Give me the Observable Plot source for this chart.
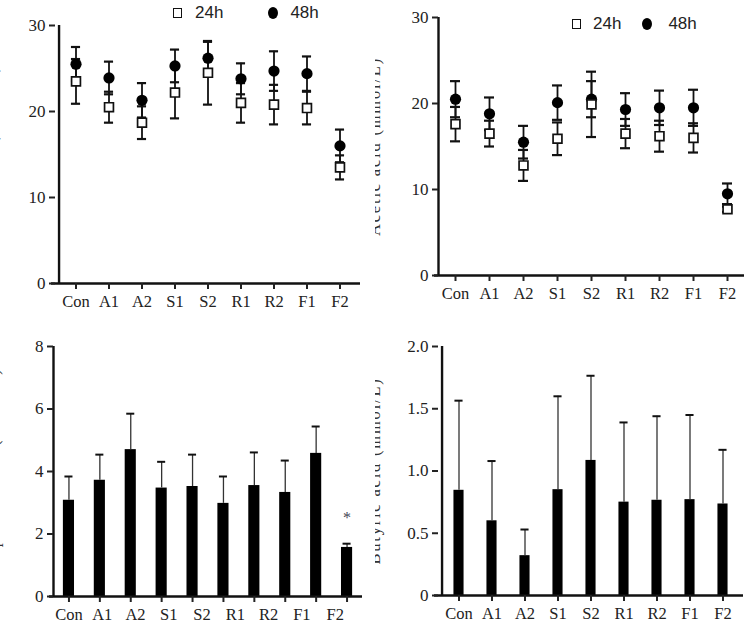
<!DOCTYPE html>
<html>
<head>
<meta charset="utf-8">
<script src="https://cdn.jsdelivr.net/npm/d3@7"></script>
<script src="https://cdn.jsdelivr.net/npm/@observablehq/plot@0.6"></script>
<style>
  html, body { margin: 0; padding: 0; background: #fff; }
  #wrap { position: relative; width: 750px; height: 639px; overflow: hidden; }
  .panel { position: absolute; }
  .panel svg { display: block; font-family: "Liberation Serif", "DejaVu Serif", serif; }
  .panel svg [aria-label="y-axis label"] text { font-size: 16.5px; letter-spacing: 1.8px; fill: #333; }
  .legend { position: absolute; font-family: "Liberation Sans", Arial, sans-serif; font-size: 17px; color: #222; display: flex; align-items: center; }
  .sq { display: inline-block; width: 7px; height: 8px; border: 1.6px solid #111; background: #fff; }
  .ci { display: inline-block; width: 10px; height: 12px; border-radius: 50%; background: #000; }
</style>
</head>
<body>
<div id="wrap">
  <div class="panel" id="p1" style="left:0;top:0"></div>
  <div class="panel" id="p2" style="left:375px;top:0"></div>
  <div class="panel" id="p3" style="left:0;top:320px"></div>
  <div class="panel" id="p4" style="left:375px;top:320px"></div>
  <div class="legend" style="left:173px;top:3px"><span class="sq"></span><span style="margin-left:13px">24h</span><span class="ci" style="margin-left:45px"></span><span style="margin-left:12px">48h</span></div>
  <div class="legend" style="left:572px;top:14px"><span class="sq"></span><span style="margin-left:12px">24h</span><span class="ci" style="margin-left:21px"></span><span style="margin-left:16px">48h</span></div>
</div>
<script>
// ---------- data ----------
const groups = ["Con", "A1", "A2", "S1", "S2", "R1", "R2", "F1", "F2"];

// Total SCFA (mmol/L)
const totalMean24 = [23.5, 20.5, 18.7, 22.2, 24.5, 21.0, 20.8, 20.4, 13.5];
const totalSD24   = [2.6, 1.8, 1.9, 3.0, 3.7, 2.3, 2.3, 1.9, 1.4];
const totalMean48 = [25.5, 23.9, 21.3, 25.3, 26.2, 23.8, 24.7, 24.4, 16.0];
const totalSD48   = [2.0, 1.9, 2.0, 1.9, 1.9, 1.8, 2.3, 2.0, 1.9];

// Acetic acid (mmol/L)
const aceticMean24 = [17.6, 16.5, 12.8, 15.9, 19.9, 16.5, 16.2, 16.0, 7.7];
const aceticSD24   = [2.0, 1.5, 1.8, 1.9, 3.8, 1.7, 1.8, 1.7, 0.3];
const aceticMean48 = [20.5, 18.8, 15.5, 20.1, 20.5, 19.3, 19.5, 19.5, 9.5];
const aceticSD48   = [2.1, 1.9, 1.9, 2.0, 2.1, 1.9, 2.0, 2.1, 1.2];

// Propanoic acid (mmol/L) — the source figure shows 10 bars under 9 labels
const propMean = [3.08, 3.72, 4.70, 3.47, 3.52, 2.98, 3.55, 3.33, 4.58, 1.57];
const propSD   = [0.76, 0.82, 1.15, 0.84, 1.02, 0.86, 1.06, 1.02, 0.86, 0.12];
const propSig  = ["", "", "", "", "", "", "", "", "", "*"];

// Butyric acid (mmol/L)
const butMean = [0.845, 0.60, 0.32, 0.85, 1.085, 0.75, 0.765, 0.77, 0.735];
const butSD   = [0.72, 0.48, 0.21, 0.75, 0.68, 0.64, 0.675, 0.68, 0.435];

// ---------- helpers ----------
const INK = "#111";
const AXW = 2.4;
const SHIFT = 10;   // the x range starts SHIFT px inside the frame; the y axis is moved along with it

function dotPanel({mean24, sd24, mean48, sd48, yLabel, axisX0, right, top, bottom, labelOffset}) {
  const rows = [];
  groups.forEach((g, i) => {
    rows.push({g, series: "24h", m: mean24[i], lo: mean24[i] - sd24[i], hi: mean24[i] + sd24[i]});
    rows.push({g, series: "48h", m: mean48[i], lo: mean48[i] - sd48[i], hi: mean48[i] + sd48[i]});
  });
  const r24 = rows.filter(d => d.series === "24h");
  const r48 = rows.filter(d => d.series === "48h");
  const x1 = 375 - right;
  const bw = (x1 - axisX0) / groups.length;
  const capInset = (bw - 10) / 2;
  return Plot.plot({
    width: 375, height: 320,
    marginLeft: axisX0 - SHIFT, marginRight: right, marginTop: top, marginBottom: bottom,
    style: {fontSize: "16px", color: "#222", background: "transparent"},
    x: {type: "band", domain: groups, padding: 0, range: [axisX0, x1], label: null},
    y: {domain: [0, 30], label: null},
    marks: [
      Plot.ruleY([0], {stroke: INK, strokeWidth: AXW, insetLeft: SHIFT - 4}),
      Plot.ruleX([groups[0]], {dx: -bw / 2, stroke: INK, strokeWidth: AXW}),
      Plot.axisY({ticks: [0, 10, 20, 30], dx: SHIFT, tickSize: 6, tickPadding: 4, strokeWidth: 2, fontSize: 17,
        label: yLabel, labelArrow: "none", labelAnchor: "center", labelOffset: labelOffset + SHIFT}),
      Plot.axisX({tickSize: 6, tickPadding: 6, strokeWidth: 2, fontSize: 16.5}),
      Plot.ruleX(rows, {x: "g", y1: "lo", y2: "hi", stroke: INK, strokeWidth: 1.8}),
      Plot.tickY(rows, {x: "g", y: "lo", stroke: INK, strokeWidth: 2.2, insetLeft: capInset, insetRight: capInset}),
      Plot.tickY(rows, {x: "g", y: "hi", stroke: INK, strokeWidth: 2.2, insetLeft: capInset, insetRight: capInset}),
      Plot.dot(r48, {x: "g", y: "m", r: 5.6, fill: "#000", stroke: "none"}),
      Plot.dot(r24, {x: "g", y: "m", symbol: "square", r: 5, fill: "#fff", stroke: INK, strokeWidth: 1.7})
    ]
  });
}

// Panel 1: Total SCFA
document.getElementById("p1").append(dotPanel({
  mean24: totalMean24, sd24: totalSD24, mean48: totalMean48, sd48: totalSD48,
  yLabel: "Total SCFA (mmol/L)", axisX0: 55, right: 15, top: 25, bottom: 37, labelOffset: 50
}));

// Panel 2: Acetic acid
document.getElementById("p2").append(dotPanel({
  mean24: aceticMean24, sd24: aceticSD24, mean48: aceticMean48, sd48: aceticSD48,
  yLabel: "Acetic acid (mmol/L)", axisX0: 63, right: 6, top: 17, bottom: 45, labelOffset: 50
}));

// Panel 3: Propanoic acid (10 bars, 9 labels spread across the axis)
{
  const bars = propMean.map((m, i) => ({i, m, hi: m + propSD[i], sig: propSig[i]}));
  const n = bars.length;
  const labelStep = 1.077;
  const labelPos = groups.map((g, j) => j * labelStep);
  const labelAt = new Map(labelPos.map((p, j) => [p, groups[j]]));
  const half = 0.18, cap = 0.13;
  const axisX0 = 53, right = 13;
  document.getElementById("p3").append(Plot.plot({
    width: 375, height: 319,
    marginLeft: axisX0 - SHIFT, marginRight: right, marginTop: 26, marginBottom: 43,
    style: {fontSize: "16px", color: "#222", background: "transparent"},
    x: {type: "linear", domain: [-0.5, n - 0.5], range: [axisX0, 375 - right], label: null},
    y: {domain: [0, 8], label: null},
    marks: [
      Plot.rectY(bars, {x1: d => d.i - half, x2: d => d.i + half, y1: 0, y2: "m", fill: "#000"}),
      Plot.ruleX(bars, {x: "i", y1: "m", y2: "hi", stroke: "#333", strokeWidth: 1.3}),
      Plot.ruleY(bars, {y: "hi", x1: d => d.i - cap, x2: d => d.i + cap, stroke: INK, strokeWidth: 2}),
      Plot.text(bars, {x: "i", y: "hi", text: "sig", dy: -26, fontSize: 16, fill: "#445"}),
      Plot.ruleY([0], {stroke: INK, strokeWidth: AXW, insetLeft: SHIFT - 4}),
      Plot.ruleX([-0.5], {stroke: INK, strokeWidth: AXW}),
      Plot.axisY({ticks: [0, 2, 4, 6, 8], dx: SHIFT, tickSize: 6, tickPadding: 4, strokeWidth: 2, fontSize: 17,
        label: "Propanoic acid (mmol/L)", labelArrow: "none", labelAnchor: "center", labelOffset: 46 + SHIFT}),
      Plot.axisX({ticks: d3.range(n), tickSize: 6, tickFormat: () => "", strokeWidth: 2}),
      Plot.axisX({ticks: labelPos, tickSize: 0, tickPadding: 12, tickFormat: d => labelAt.get(d), fontSize: 16.5})
    ]
  }));
}

// Panel 4: Butyric acid
{
  const bars = groups.map((g, i) => ({g, m: butMean[i], hi: butMean[i] + butSD[i]}));
  const axisX0 = 63, right = 7;
  const bw = (375 - right - axisX0) / groups.length;
  const barInset = (bw - 11) / 2, capInset = (bw - 9) / 2;
  document.getElementById("p4").append(Plot.plot({
    width: 375, height: 319,
    marginLeft: axisX0 - SHIFT, marginRight: right, marginTop: 26, marginBottom: 44,
    style: {fontSize: "16px", color: "#222", background: "transparent"},
    x: {type: "band", domain: groups, padding: 0, range: [axisX0, 375 - right], label: null},
    y: {domain: [0, 2], label: null},
    marks: [
      Plot.barY(bars, {x: "g", y: "m", fill: "#000", insetLeft: barInset, insetRight: barInset}),
      Plot.ruleX(bars, {x: "g", y1: "m", y2: "hi", stroke: "#333", strokeWidth: 1.3}),
      Plot.tickY(bars, {x: "g", y: "hi", stroke: INK, strokeWidth: 2, insetLeft: capInset, insetRight: capInset}),
      Plot.ruleY([0], {stroke: INK, strokeWidth: AXW, insetLeft: SHIFT - 4}),
      Plot.ruleX([groups[0]], {dx: -bw / 2, stroke: INK, strokeWidth: AXW}),
      Plot.axisY({ticks: [0, 0.5, 1, 1.5, 2], dx: SHIFT, tickSize: 6, tickPadding: 4, strokeWidth: 2, fontSize: 17,
        tickFormat: d => d === 0 ? "0" : d3.format(".1f")(d),
        label: "Butyric acid (mmol/L)", labelArrow: "none", labelAnchor: "center", labelOffset: 50 + SHIFT}),
      Plot.axisX({tickSize: 6, tickPadding: 6, strokeWidth: 2, fontSize: 16.5})
    ]
  }));
}
</script>
</body>
</html>
